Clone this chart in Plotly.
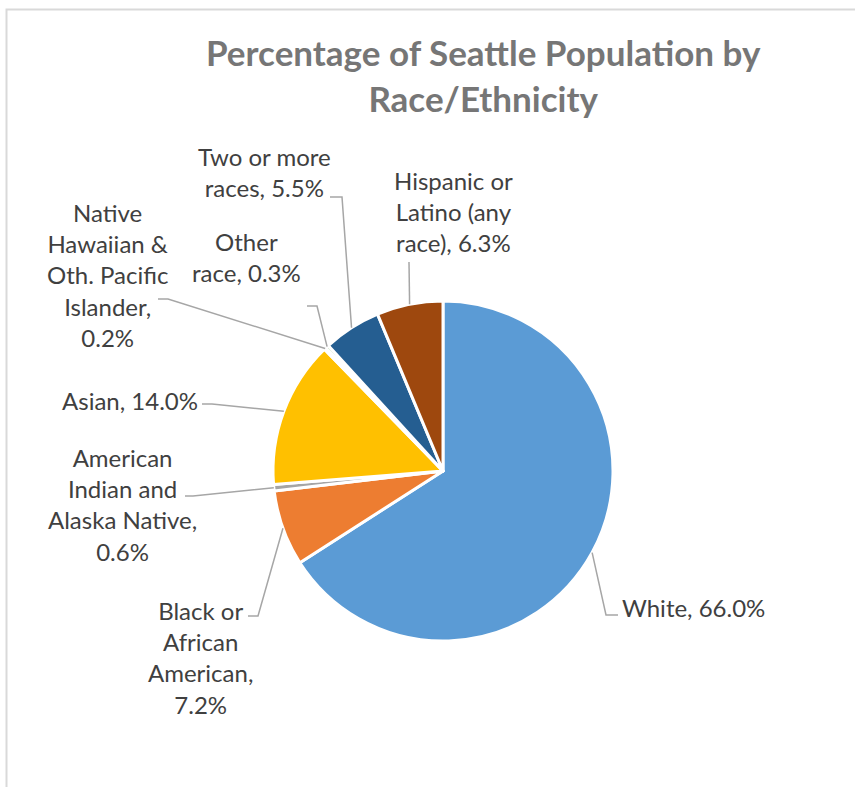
import math
import plotly.graph_objects as go

# --- data -------------------------------------------------------------
groups = [
    "White",
    "Black or African American",
    "American Indian and Alaska Native",
    "Asian",
    "Native Hawaiian & Oth. Pacific Islander",
    "Other race",
    "Two or more races",
    "Hispanic or Latino (any race)",
]
shares = [66.0, 7.2, 0.6, 14.0, 0.2, 0.3, 5.5, 6.3]

# wrapped label templates ({} receives the share)
label_templates = [
    "White, {:.1f}%",
    "Black or<br>African<br>American,<br>{:.1f}%",
    "American<br>Indian and<br>Alaska Native,<br>{:.1f}%",
    "Asian, {:.1f}%",
    "Native<br>Hawaiian &<br>Oth. Pacific<br>Islander,<br>{:.1f}%",
    "Other<br>race, {:.1f}%",
    "Two or more<br>races, {:.1f}%",
    "Hispanic or<br>Latino (any<br>race), {:.1f}%",
]

colors = ["#5B9BD5", "#ED7D31", "#A5A5A5", "#FFC000",
          "#4472C4", "#70AD47", "#255E91", "#9E480E"]

# --- layout geometry (pixels) ----------------------------------------
W, H = 855, 787
CX, CY, R = 443, 471, 170

# label centres and the label-side points of each leader line
label_pos = [(693, 607), (200, 657), (122, 504), (130, 400),
             (107, 275), (247, 257), (264, 172), (453, 212)]
leader_pts = [
    [(618, 615), (606, 615)],
    [(248, 616), (258, 616)],
    [(185, 496), (193, 496)],
    [(202, 404), (212, 404)],
    [(158, 299), (168, 299)],
    [(307, 306), (317, 306)],
    [(330, 197), (342, 197)],
    [(409, 262)],
]


def px(x):
    return x / W


def py(y):
    return 1 - y / H


fig = go.Figure(go.Pie(
    labels=groups,
    values=shares,
    sort=False,
    direction="clockwise",
    rotation=0,
    textinfo="none",
    hoverinfo="label+percent",
    marker=dict(colors=colors, line=dict(color="white", width=3)),
    domain=dict(x=[px(CX - R), px(CX + R)], y=[py(CY + R), py(CY - R)]),
    showlegend=False,
))

total = sum(shares)
shapes = []
annotations = []
cum = 0.0
for i, v in enumerate(shares):
    mid = (cum + v / 2) / total * 2 * math.pi
    cum += v
    ex = CX + R * math.sin(mid)
    ey = CY - R * math.cos(mid)
    pts = leader_pts[i] + [(ex, ey)]
    path = "M " + " L ".join(f"{px(x):.5f},{py(y):.5f}" for x, y in pts)
    shapes.append(dict(type="path", xref="paper", yref="paper", path=path,
                       line=dict(color="#A6A6A6", width=1.5)))
    lx, ly = label_pos[i]
    annotations.append(dict(
        x=px(lx), y=py(ly), xref="paper", yref="paper",
        text=label_templates[i].format(v), showarrow=False,
        xanchor="center", yanchor="middle", align="center",
        font=dict(family="Lato", size=24, color="#404040"),
    ))

# title
annotations.append(dict(
    x=px(483), y=py(75), xref="paper", yref="paper",
    text="<b>Percentage of Seattle Population by<br>Race/Ethnicity</b>",
    showarrow=False, xanchor="center", yanchor="middle", align="center",
    font=dict(family="Lato", size=35, color="#767676"),
))

# chart frame
shapes.append(dict(type="rect", xref="paper", yref="paper",
                   x0=px(6.5), x1=1.2, y0=-0.2, y1=py(9.5),
                   line=dict(color="#D9D9D9", width=2)))

fig.update_layout(
    width=W, height=H,
    margin=dict(l=0, r=0, t=0, b=0),
    paper_bgcolor="white", plot_bgcolor="white",
    shapes=shapes, annotations=annotations,
)

fig.write_html("out.html")
